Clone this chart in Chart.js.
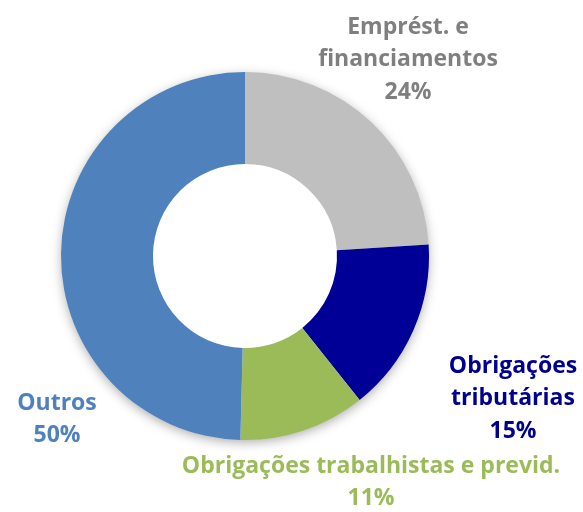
<!DOCTYPE html>
<html><head><meta charset="utf-8">
<script src="https://cdn.jsdelivr.net/npm/chart.js@4"></script>
<style>html,body{margin:0;padding:0;background:#fff}#w{width:583px;height:512px;position:relative}</style>
</head><body><div id="w"><canvas id="c"></canvas></div>
<script>
const categories = [["Emprést. e","financiamentos"],["Obrigações","tributárias"],["Obrigações trabalhistas e previd."],["Outros"]];
const values = [24.0, 15.3, 11.1, 49.6];
const sliceColors = ["#BFBFBF","#000096","#9BBB59","#4F81BD"];
const labelColors = ["#7F7F7F","#000090","#9BBB59","#4F81BD"];
const labelPos = [[408,27],[513,366],[371,466],[57,403]];

const shadowPlugin = {
  id:'shadow',
  beforeDatasetsDraw(chart){
    const m = chart.getDatasetMeta(0).data[0];
    if(!m) return;
    const ctx = chart.ctx;
    ctx.save();
    ctx.shadowColor='rgba(0,0,0,0.35)';
    ctx.shadowBlur=12;
    ctx.shadowOffsetY=3;
    ctx.fillStyle='#fff';
    ctx.beginPath();
    ctx.arc(m.x,m.y,m.outerRadius-1,0,Math.PI*2);
    ctx.fill();
    ctx.restore();
  }
};
const labelPlugin = {
  id:'lbls',
  afterDatasetsDraw(chart){
    const ctx = chart.ctx;
    ctx.save();
    ctx.font = 'bold 23px "Open Sans"';
    ctx.textAlign='center';
    ctx.textBaseline='middle';
    categories.forEach((lines,i)=>{
      const [x,y]=labelPos[i];
      ctx.fillStyle=labelColors[i];
      const all = lines.concat([Math.round(values[i])+'%']);
      all.forEach((t,j)=>ctx.fillText(t,x,y+j*32.5));
    });
    ctx.restore();
  }
};
new Chart(document.getElementById('c'),{
  type:'doughnut',
  data:{labels:categories.map(l=>l.join(' ')),datasets:[{data:values,backgroundColor:sliceColors,borderWidth:0}]},
  options:{
    responsive:true,maintainAspectRatio:false,animation:false,
    cutout:'50%',
    layout:{padding:{top:72,bottom:72,left:61,right:154}},
    plugins:{legend:{display:false},tooltip:{enabled:false}}
  },
  plugins:[shadowPlugin,labelPlugin]
});
</script></body></html>
